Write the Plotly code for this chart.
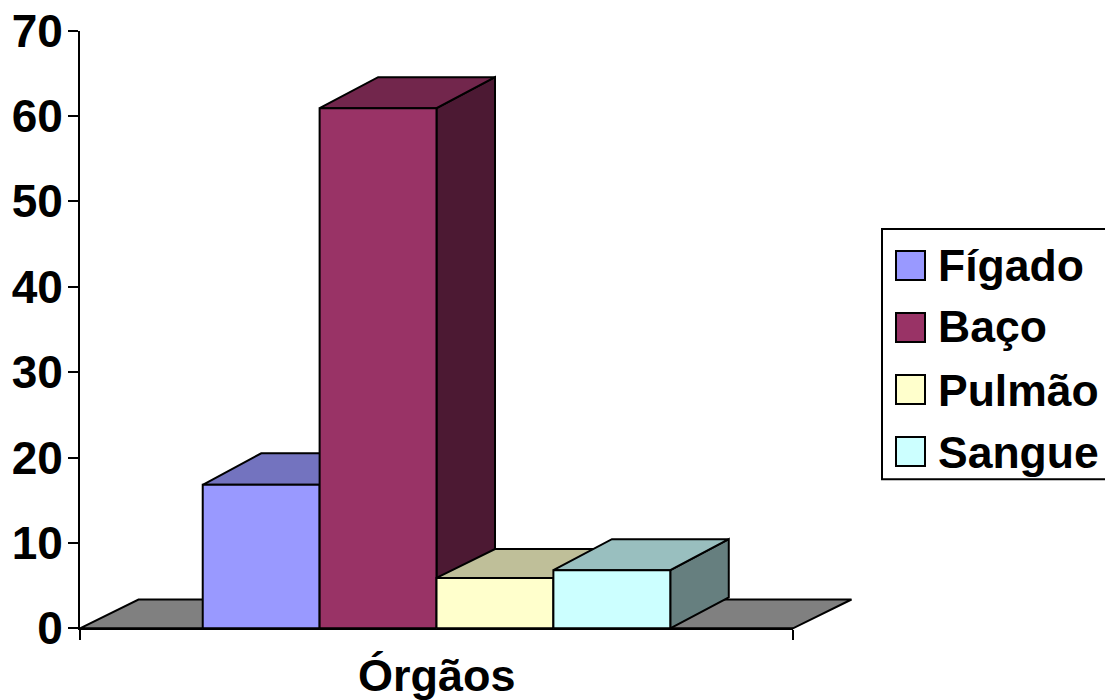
import plotly.graph_objects as go

# ---- data ----
categories = ["Órgãos"]
series_names = ["Fígado", "Baço", "Pulmão", "Sangue"]
series_values = [16.8, 60.9, 5.9, 6.8]
y_ticks = [0, 10, 20, 30, 40, 50, 60, 70]

# ---- style ----
front_colors = ["#9999FF", "#993366", "#FFFFCC", "#CCFFFF"]
top_colors = ["#7373BF", "#72264C", "#BFBF99", "#99BFBF"]
side_colors = ["#4C4C7F", "#4C1933", "#7F7F66", "#667F7F"]
floor_color = "#808080"
FONT = dict(family="Liberation Sans, Arial, sans-serif", size=45, color="black", weight=700)
LEGEND_FONT = dict(family="Liberation Sans, Arial, sans-serif", size=44.5, color="black", weight=700)
TICK_FONT = dict(family="Liberation Sans, Arial, sans-serif", size=46, color="black", weight=700)

W, H = 1105, 700
# pixel frame of the value/category axes
AX_L, AX_R, AX_T, AX_B = 80.0, 793.0, 30.5, 628.3
# drawing frame (a little larger, so the depth faces and line widths are not clipped)
DR_L, DR_R, DR_T, DR_B = 70.0, 870.0, 20.0, 640.0

# category axis in "bar widths": bars occupy 0..n, with equal gaps either side
n = len(series_values)
X0, X1 = -1.05, n + 1.05
Y0, Y1 = 0, 70
px_x = (AX_R - AX_L) / (X1 - X0)
px_y = (AX_B - AX_T) / (Y1 - Y0)
DX = 58.5 / px_x     # depth, in x units
DEPTH_PX = [31.5, 31.0, 28.8, 31.0]
FLOOR_DY = 28.8 / px_y

fig = go.Figure()


def poly(xs, ys, color, name, width=2):
    fig.add_trace(go.Scatter(
        x=xs + xs[:1], y=ys + ys[:1], mode="lines", fill="toself",
        fillcolor=color, line=dict(color="black", width=width),
        xaxis="x2", yaxis="y2", showlegend=False, name=name, hoverinfo="name",
    ))


# floor
poly([X0, X1, X1 + DX, X0 + DX], [0, 0, FLOOR_DY, FLOOR_DY], floor_color, "floor")

# bars, left to right so that each hides what it should
for i, (name, v) in enumerate(zip(series_names, series_values)):
    l, r = i, i + 1
    DY = DEPTH_PX[i] / px_y
    poly([r, r + DX, r + DX, r], [0, DY, v + DY, v], side_colors[i], name)
    poly([l, r, r + DX, l + DX], [v, v, v + DY, v + DY], top_colors[i], name)
    poly([l, r, r, l], [0, 0, v, v], front_colors[i], name)


def dom(a, b, size):
    return [a / size, b / size]


fig.update_layout(
    width=W, height=H, margin=dict(l=0, r=0, t=0, b=0, autoexpand=False), autosize=False,
    paper_bgcolor="white", plot_bgcolor="rgba(0,0,0,0)", showlegend=False,
    font=FONT,
    xaxis=dict(
        domain=dom(AX_L, AX_R, W), range=[X0, X1], tickmode="array", tickvals=[X0, X1],
        ticktext=["", ""], ticks="outside", ticklen=10, tickwidth=2, tickcolor="black",
        showline=True, linecolor="black", linewidth=2, showgrid=False, zeroline=False,
        fixedrange=True, automargin=False,
    ),
    yaxis=dict(
        domain=[1 - AX_B / H, 1 - AX_T / H], range=[Y0, Y1], tickmode="array", tickvals=y_ticks,
        ticks="outside", ticklen=10, tickwidth=2, tickcolor="black", tickfont=TICK_FONT,
        ticklabelstandoff=-4,
        showline=True, linecolor="black", linewidth=2, showgrid=False, zeroline=False,
        fixedrange=True, automargin=False,
    ),
    xaxis2=dict(
        domain=dom(DR_L, DR_R, W),
        range=[X0 + (DR_L - AX_L) / px_x, X0 + (DR_R - AX_L) / px_x],
        visible=False, anchor="y2", fixedrange=True,
    ),
    yaxis2=dict(
        domain=[1 - DR_B / H, 1 - DR_T / H],
        range=[(AX_B - DR_B) / px_y, (AX_B - DR_T) / px_y],
        visible=False, anchor="x2", fixedrange=True,
    ),
)

# category label
fig.add_annotation(
    text=categories[0], xref="x", yref="paper", x=(X0 + X1) / 2, y=1 - 675 / H,
    showarrow=False, font=FONT, xanchor="center", yanchor="middle",
)

# legend box
fig.add_shape(type="rect", xref="paper", yref="paper", x0=882 / W, x1=1108 / W,
              y0=1 - 479.3 / H, y1=1 - 229 / H, line=dict(color="black", width=2),
              fillcolor="white")
swatch_tops = [251, 313, 375, 437]
label_centres = [265, 327, 390, 452]
for name, color, top, mid in zip(series_names, front_colors, swatch_tops, label_centres):
    fig.add_shape(type="rect", xref="paper", yref="paper", x0=896 / W, x1=925 / W,
                  y0=1 - (top + 29) / H, y1=1 - top / H,
                  line=dict(color="black", width=2), fillcolor=color)
    fig.add_annotation(text=name, xref="paper", yref="paper", x=938 / W, y=1 - mid / H,
                       showarrow=False, font=LEGEND_FONT, xanchor="left", yanchor="middle",
                       borderpad=0, borderwidth=0)

fig.write_html("out.html", config={"displayModeBar": False},
               post_script="document.body.style.margin='0';")
